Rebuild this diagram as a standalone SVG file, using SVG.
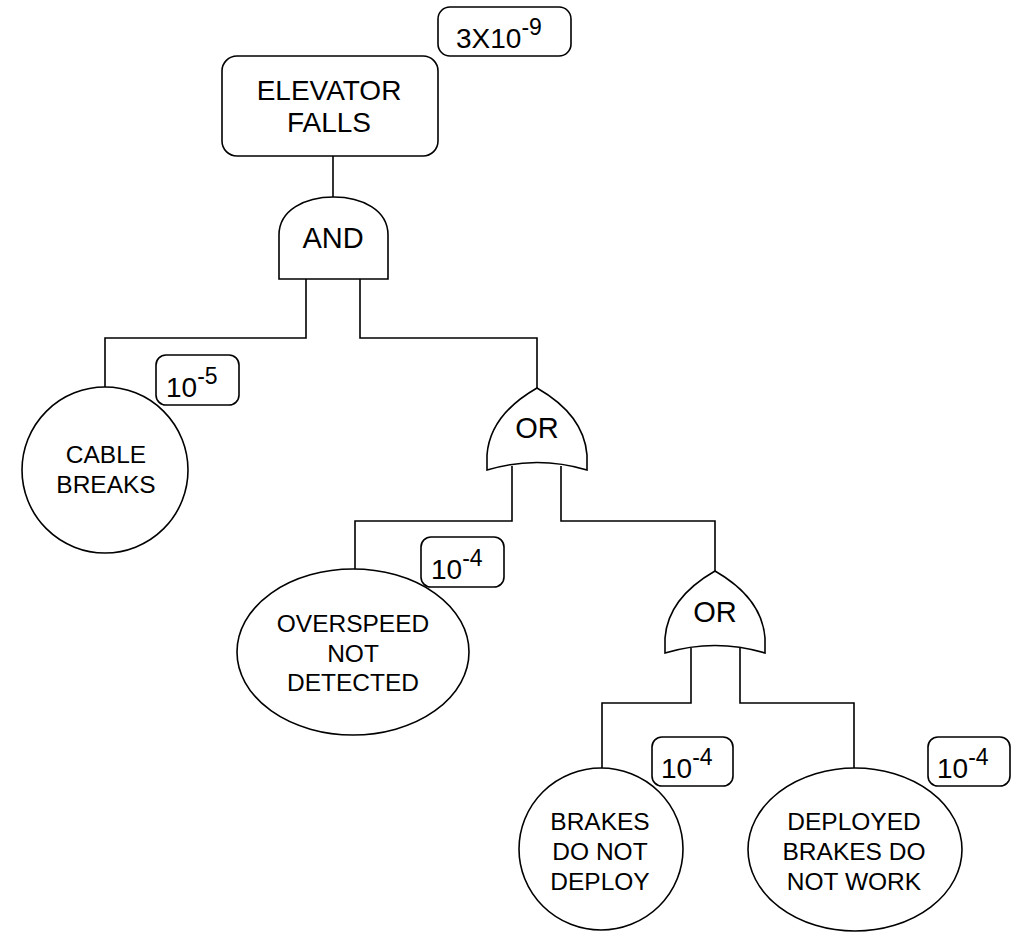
<svg xmlns="http://www.w3.org/2000/svg" xmlns:xlink="http://www.w3.org/1999/xlink" width="1031" height="932" viewBox="0 0 1031 932">
  <style>
    .shape { fill: #ffffff; stroke: #000000; stroke-width: 1.6; }
    .wire { fill: none; stroke: #000000; stroke-width: 1.6; }
    .lbl { font-family: "Liberation Sans", Arial, Helvetica, sans-serif; fill: #000000; text-anchor: middle; font-size: 24.5px; }
    .big { font-size: 28px; }
    .gate { font-size: 29px; }
    .prob { font-family: "Liberation Sans", Arial, Helvetica, sans-serif; fill: #000000; font-size: 28px; }
    .sup { font-size: 23px; }
  </style>
  <defs>
    <!-- OR gate outline, origin at its top tip -->
    <path id="orGate" d="M0,0 Q-47,27 -50,67 L-50,82 Q0,67 50,82 L50,67 Q47,27 0,0 Z"/>
  </defs>

  <rect width="1031" height="932" fill="#ffffff"/>

  <!-- connectors -->
  <g id="connectors">
    <path class="wire" d="M333,156 V197"/>
    <path class="wire" d="M306,279 V338 H105 V387"/>
    <path class="wire" d="M360,279 V338 H537 V388"/>
    <path class="wire" d="M512,466 V521 H355 V569"/>
    <path class="wire" d="M561,466 V521 H715 V571"/>
    <path class="wire" d="M691,648 V703 H602 V768"/>
    <path class="wire" d="M740,648 V703 H854 V768"/>
  </g>

  <!-- top event -->
  <g id="top-event">
    <rect class="shape" x="222" y="56" width="216" height="100" rx="15"/>
    <text class="lbl big" x="329" y="100">ELEVATOR</text>
    <text class="lbl big" x="329" y="132">FALLS</text>
  </g>
  <g id="p-top">
    <rect class="shape" x="438" y="7" width="133" height="49" rx="12"/>
    <text class="prob" x="456" y="48">3X10<tspan class="sup" dy="-13">-9</tspan></text>
  </g>

  <!-- AND gate -->
  <g id="and-gate">
    <path class="shape" d="M279,279 L279,235 C279,210 305,197 333.5,197 C362,197 388,210 388,235 L388,279 Z"/>
    <text class="lbl gate" x="333" y="248">AND</text>
  </g>

  <!-- cable breaks -->
  <g id="cable-breaks">
    <circle class="shape" cx="105" cy="470" r="83"/>
    <text class="lbl" x="106" y="463">CABLE</text>
    <text class="lbl" x="106" y="493">BREAKS</text>
  </g>
  <g id="p-cable">
    <rect class="shape" x="156" y="355" width="83" height="50" rx="10"/>
    <text class="prob" x="166" y="397">10<tspan class="sup" dy="-13">-5</tspan></text>
  </g>

  <!-- OR gate 1 -->
  <g id="or-gate-1">
    <use xlink:href="#orGate" class="shape" x="537" y="388"/>
    <text class="lbl gate" x="537" y="438">OR</text>
  </g>

  <!-- overspeed not detected -->
  <g id="overspeed">
    <ellipse class="shape" cx="353" cy="652" rx="116" ry="83"/>
    <text class="lbl" x="353" y="632">OVERSPEED</text>
    <text class="lbl" x="353" y="662">NOT</text>
    <text class="lbl" x="353" y="691">DETECTED</text>
  </g>
  <g id="p-overspeed">
    <rect class="shape" x="421" y="537" width="83" height="50" rx="10"/>
    <text class="prob" x="431" y="579">10<tspan class="sup" dy="-13">-4</tspan></text>
  </g>

  <!-- OR gate 2 -->
  <g id="or-gate-2">
    <use xlink:href="#orGate" class="shape" x="715" y="571"/>
    <text class="lbl gate" x="715" y="622">OR</text>
  </g>

  <!-- brakes do not deploy -->
  <g id="brakes-not-deploy">
    <ellipse class="shape" cx="601" cy="849" rx="82" ry="81"/>
    <text class="lbl" x="600" y="830">BRAKES</text>
    <text class="lbl" x="600" y="860">DO NOT</text>
    <text class="lbl" x="600" y="890">DEPLOY</text>
  </g>
  <g id="p-deploy">
    <rect class="shape" x="652" y="737" width="81" height="49" rx="10"/>
    <text class="prob" x="661" y="778">10<tspan class="sup" dy="-13">-4</tspan></text>
  </g>

  <!-- deployed brakes do not work -->
  <g id="brakes-not-work">
    <ellipse class="shape" cx="855" cy="849.5" rx="107" ry="81.5"/>
    <text class="lbl" x="854" y="830">DEPLOYED</text>
    <text class="lbl" x="854" y="860">BRAKES DO</text>
    <text class="lbl" x="854" y="890">NOT WORK</text>
  </g>
  <g id="p-work">
    <rect class="shape" x="928" y="737" width="82" height="49" rx="10"/>
    <text class="prob" x="937" y="778">10<tspan class="sup" dy="-13">-4</tspan></text>
  </g>
</svg>
